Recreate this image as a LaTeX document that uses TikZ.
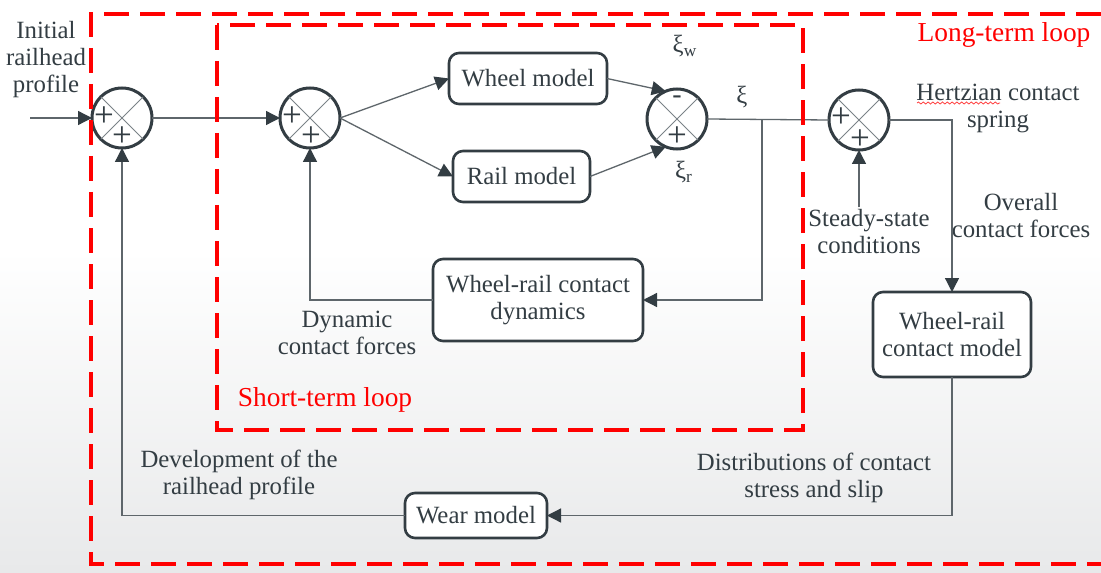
\documentclass[tikz,border=0pt]{standalone}
\usepackage{fontspec}
\IfFontExistsTF{LiberationSerif-Regular.ttf}
  {\setmainfont{LiberationSerif}[Extension=.ttf, UprightFont=*-Regular,
     BoldFont=*-Bold, ItalicFont=*-Italic, BoldItalicFont=*-BoldItalic]}
  {\setmainfont{Liberation Serif}}
\usetikzlibrary{arrows.meta,decorations.pathmorphing,calc}
\definecolor{ink}{HTML}{333D43}
\definecolor{wirec}{HTML}{5E666B}
\definecolor{xlinec}{HTML}{7A8287}
\definecolor{bgbot}{HTML}{E8E9EA}

\begin{document}
\begin{tikzpicture}[x=0.5pt,y=-0.5pt,
  font=\rmfamily\fontsize{12.4}{13.5}\selectfont,
  every node/.style={text=ink},
  block/.style={draw=ink, line width=1.3pt, rounded corners=5pt, align=center,
    inner sep=0pt, outer sep=0pt, fill=white},
  sumnode/.style={circle, draw=ink, line width=1.5pt, minimum size=30pt,
    inner sep=0pt, outer sep=0pt},
  cross/.style={draw=xlinec, line width=0.5pt},
  sign/.style={font=\rmfamily\fontsize{17.5}{17.5}\selectfont, inner sep=0pt, text=ink},
  minus/.style={font=\rmfamily\fontsize{14}{14}\selectfont, inner sep=0pt, text=ink},
  wire/.style={draw=wirec, line width=0.65pt},
  arr/.style={wire, -{Triangle[length=7pt,width=7pt,color=ink]}},
  looprect/.style={draw=red, line width=1.8pt, dash pattern=on 12.5pt off 5.5pt},
  looplabel/.style={text=red, font=\rmfamily\fontsize{13.7}{15}\selectfont},
  lbl/.style={align=center, inner sep=1pt}
]
% canvas
\useasboundingbox (0,0) rectangle (1101,572);
\fill[white] (0,0) rectangle (1101,572);
\shade[top color=white, bottom color=bgbot] (0,250) rectangle (1101,572);

% summing junctions
\node[sumnode] (s1) at (122,118) {};
\node[sumnode] (s2) at (310,118) {};
\node[sumnode] (s3) at (677,119) {};
\node[sumnode] (s4) at (859,120) {};
\foreach \s in {s1,s2,s3,s4}
  \draw[cross] (\s.45) -- (\s.225) (\s.135) -- (\s.315);

\node[sign] (p1a) at (104,117) {+};
\node[sign] (p1b) at (122,137) {+};
\node[sign] (p2a) at (292,117) {+};
\node[sign] (p2b) at (311,137) {+};
\node[minus] (m3a) at (677,100) {-};
\node[sign] (p3b) at (677,137) {+};
\node[sign] (p4a) at (841,118) {+};
\node[sign] (p4b) at (860,140) {+};

% blocks
\node[block, minimum width=79pt, minimum height=25.5pt] (wheel) at (528,78.5) {Wheel model};
\node[block, minimum width=68.5pt, minimum height=25.5pt] (rail) at (521.5,176.5) {Rail model};
\node[block, minimum width=105pt, minimum height=41pt] (dyn) at (538,300) {Wheel-rail contact\\dynamics};
\node[block, minimum width=79pt, minimum height=42.5pt] (cmodel) at (952,334.5) {Wheel-rail\\contact model};
\node[block, minimum width=71pt, minimum height=22.5pt] (wear) at (476,515.5) {Wear model};

% labels
\node[lbl] (init) at (46,60) {Initial\\railhead\\profile};
\node[lbl] (hertz) at (998,108) {Hertzian contact\\spring};
\node[lbl] (overall) at (1021,216) {Overall\\contact forces};
\node[lbl] (steady) at (869,232) {Steady-state\\conditions};
\node[lbl] (dynf) at (347,333) {Dynamic\\contact forces};
\node[lbl] (devel) at (239,475) {Development of the\\railhead profile};
\node[lbl] (distr) at (814,478) {Distributions of contact\\stress and slip};
\node[lbl] (xi) at (742,97) {ξ};
\node[lbl] (xiw) at (685,46) {ξ\textsubscript{w}};
\node[lbl] (xir) at (684,172) {ξ\textsubscript{r}};

% spell-check squiggle under "Hertzian"
\draw[red!75, line width=0.4pt, decorate,
  decoration={snake, amplitude=0.5pt, segment length=2.4pt}] (917,103) -- (1000,103);

% connectors
\coordinate (in) at (30,118);
\coordinate (br) at (762,119.5);
\draw[arr] (in) -- (s1.west);
\draw[arr] (s1.east) -- (s2.west);
\draw[arr] (s2.east) -- (wheel.west);
\draw[arr] (s2.east) -- (rail.west);
\draw[arr] (wheel.east) -- (s3.112);
\draw[arr] (rail.east) -- (s3.-112);
\draw[wire] (s3.east) -- (s4.west);
\draw[arr] (br) |- (dyn.east);
\draw[arr] (dyn.west) -| (s2.south);
\draw[arr] (s4.east) -| (cmodel.north);
\draw[arr] (s4.south |- steady.north) -- (s4.south);
\draw[arr] (cmodel.south) |- (wear.east);
\draw[arr] (wear.west) -| (s1.south);

% loops
\draw[looprect] (1101,14) -- (91,14) -- (91,564) -- (1101,564);
\draw[looprect] (217,25) rectangle (803,430);
\node[looplabel] (lt) at (1004,35) {Long-term loop};
\node[looplabel] (st) at (325,400) {Short-term loop};
\end{tikzpicture}
\end{document}
